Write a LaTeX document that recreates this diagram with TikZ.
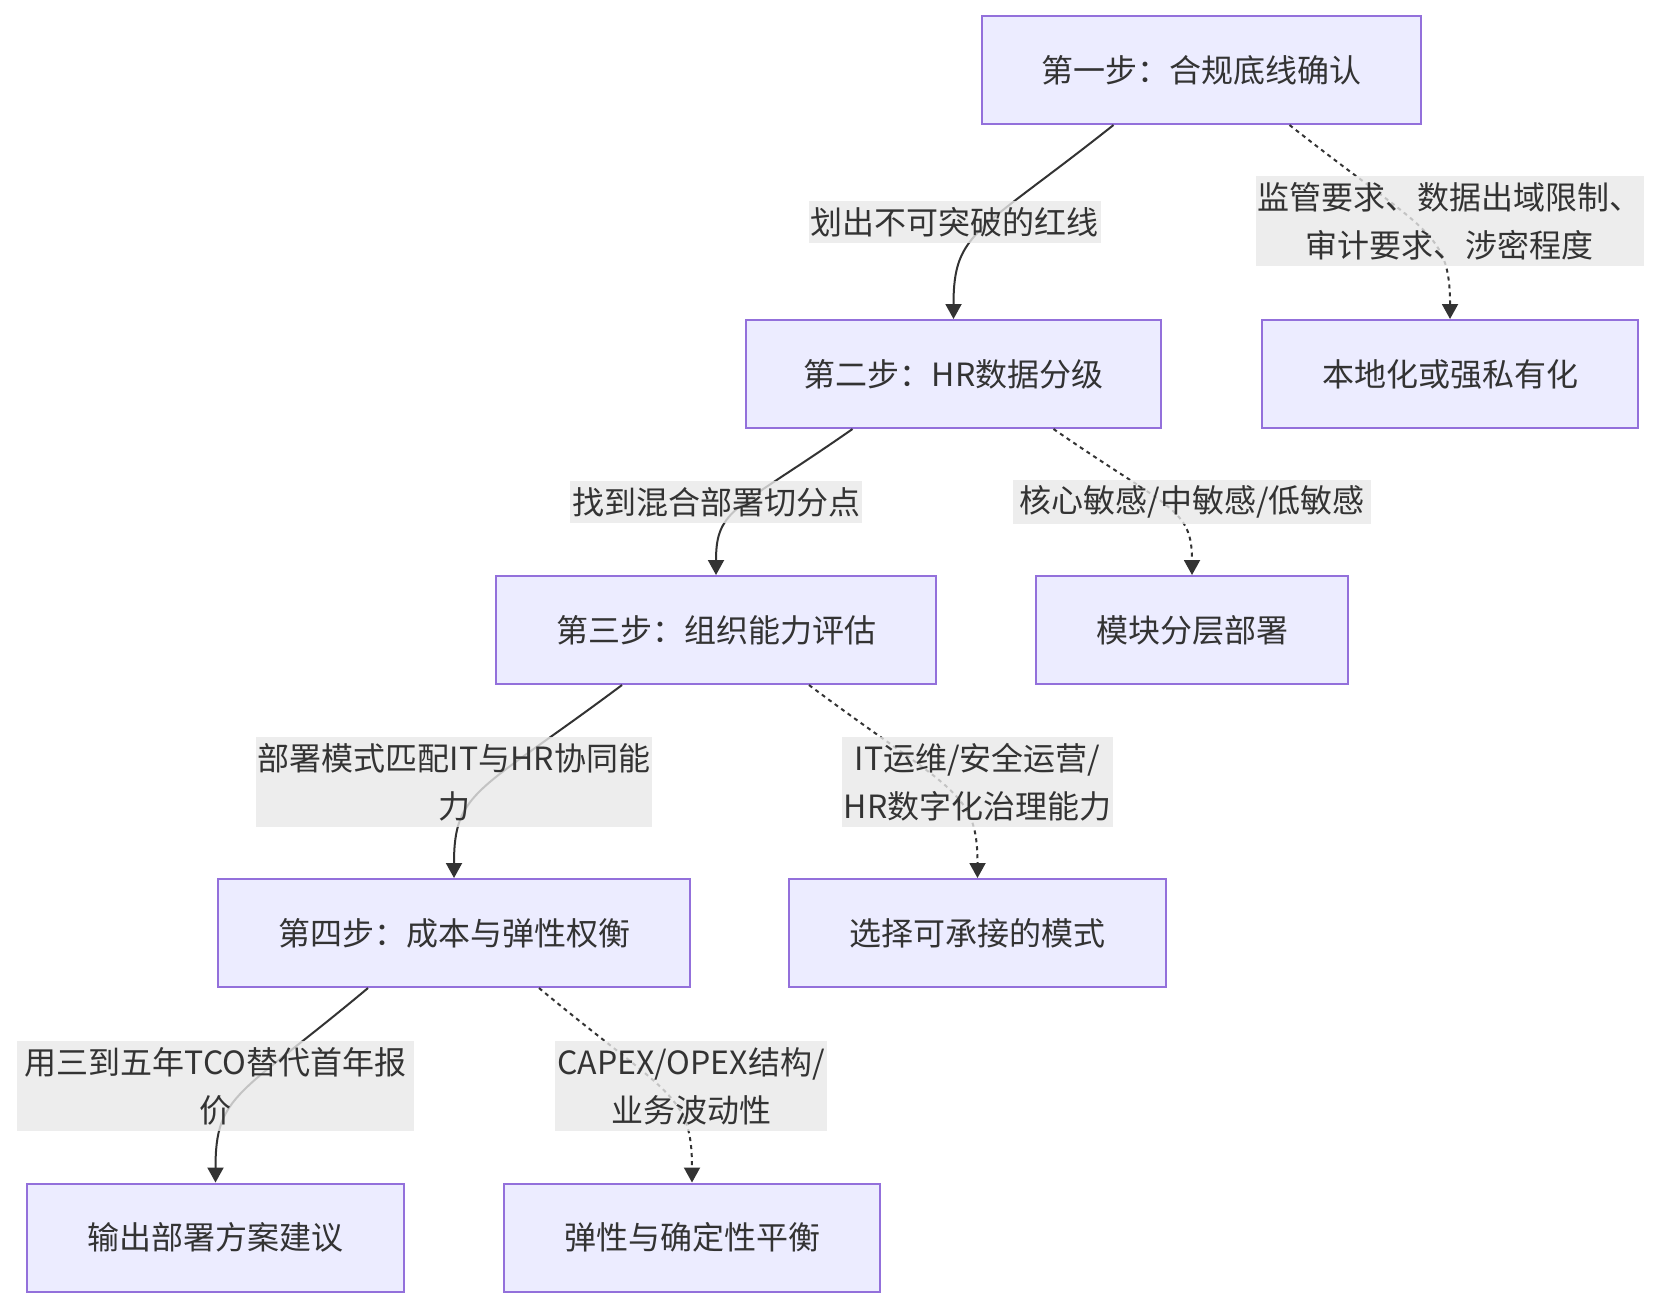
\documentclass[tikz,border=0pt]{standalone}
\usepackage{fontspec}
\newfontfamily\cjk{Noto Sans CJK SC}
\usetikzlibrary{arrows.meta,calc}
\definecolor{boxfill}{HTML}{ECECFF}
\definecolor{boxline}{HTML}{9370DB}
\definecolor{lblfill}{HTML}{E8E8E8}
\definecolor{ink}{HTML}{333333}
\tikzset{
  stepbox/.style={draw=boxline, fill=boxfill, line width=1pt, minimum height=54pt,
    inner sep=0pt, font=\cjk\fontsize{16}{24}\selectfont, text=ink},
  lbl/.style={fill=lblfill, fill opacity=0.8, text opacity=1, inner xsep=1pt, inner ysep=3pt,
    align=center, font=\cjk\fontsize{16}{24}\selectfont, text=ink},
  solidedge/.style={draw=ink, line width=1pt, -{Triangle[length=7.5pt,width=8pt]}},
  dotedge/.style={draw=ink, line width=1pt, dash pattern=on 2pt off 2pt, -{Triangle[length=7.5pt,width=8pt]}},
}
\begin{document}
\begin{tikzpicture}[x=0.5pt,y=-0.5pt]
\useasboundingbox (0,0) rectangle (1657,1308);
% nodes
\node[stepbox, minimum width=219.5pt] (b1) at (1201.5,70) {第一步：合规底线确认};
\node[stepbox, minimum width=207.5pt] (b2) at (953.5,374) {第二步：HR数据分级};
\node[stepbox, minimum width=188pt] (r1) at (1450,374) {本地化或强私有化};
\node[stepbox, minimum width=220pt] (b3) at (716,630) {第三步：组织能力评估};
\node[stepbox, minimum width=156pt] (r2) at (1192,630) {模块分层部署};
\node[stepbox, minimum width=236pt] (b4) at (454,933) {第四步：成本与弹性权衡};
\node[stepbox, minimum width=188.5pt] (r3) at (977.5,933) {选择可承接的模式};
\node[stepbox, minimum width=188.5pt] (b5) at (215.5,1237.5) {输出部署方案建议};
\node[stepbox, minimum width=188pt] (r4) at (692,1237.5) {弹性与确定性平衡};
% edge start points
\coordinate (s1) at ($(b1.south)+(-88,0)$);
\coordinate (t1) at ($(b1.south)+(88,0)$);
\coordinate (s2) at ($(b2.south)+(-101,0)$);
\coordinate (t2) at ($(b2.south)+(100,0)$);
\coordinate (s3) at ($(b3.south)+(-94,0)$);
\coordinate (t3) at ($(b3.south)+(93,0)$);
\coordinate (s4) at ($(b4.south)+(-86,0)$);
\coordinate (t4) at ($(b4.south)+(85,0)$);
% edges
\draw[solidedge] (s1) .. controls +(-136,108) and +(0,-88) .. (b2.north);
\draw[dotedge] (t1) .. controls +(137,108) and +(0,-88) .. (r1.north);
\draw[solidedge] (s2) .. controls +(-116,81) and +(0,-67) .. (b3.north);
\draw[dotedge] (t2) .. controls +(117,81) and +(0,-67) .. (r2.north);
\draw[solidedge] (s3) .. controls +(-143,107) and +(0,-88) .. (b4.north);
\draw[dotedge] (t3) .. controls +(143,107) and +(0,-88) .. (r3.north);
\draw[solidedge] (s4) .. controls +(-129,108) and +(0,-89) .. (b5.north);
\draw[dotedge] (t4) .. controls +(130,108) and +(0,-89) .. (r4.north);
% labels
\node[lbl] (l1) at (954.5,222) {划出不可突破的红线};
\node[lbl] (l2) at (1449.5,221) {监管要求、数据出域限制、\\审计要求、涉密程度};
\node[lbl] (l3) at (716,502) {找到混合部署切分点};
\node[lbl, inner xsep=3pt] (l4) at (1192,502) {核心敏感/中敏感/低敏感};
\node[lbl] (l5) at (454,782) {部署模式匹配IT与HR协同能\\力};
\node[lbl] (l6) at (977.5,782) {IT运维/安全运营/\\HR数字化治理能力};
\node[lbl, inner xsep=4pt] (l7) at (215.5,1086) {用三到五年TCO替代首年报\\价};
\node[lbl] (l8) at (691,1086) {CAPEX/OPEX结构/\\业务波动性};
\end{tikzpicture}
\end{document}
